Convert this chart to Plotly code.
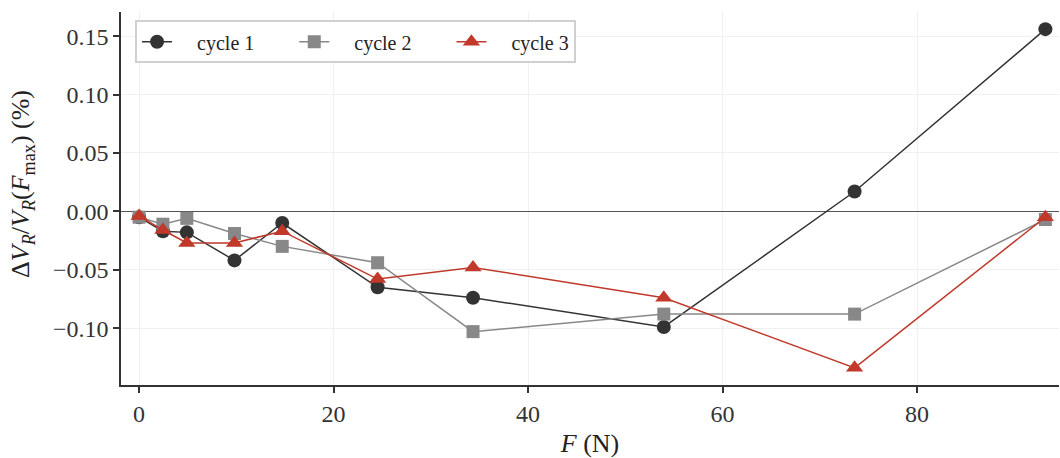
import plotly.graph_objects as go

# Applied force (N) and relative resistance change (%) for three loading cycles
force_n = [0.0, 2.45, 4.91, 9.81, 14.72, 24.53, 34.34, 53.96, 73.58, 93.20]
cycle1 = [-0.005, -0.017, -0.018, -0.042, -0.010, -0.065, -0.074, -0.099, 0.017, 0.156]
cycle2 = [-0.005, -0.011, -0.006, -0.019, -0.030, -0.044, -0.103, -0.088, -0.088, -0.007]
cycle3 = [-0.004, -0.016, -0.027, -0.027, -0.017, -0.058, -0.048, -0.074, -0.134, -0.005]

series_names = ["cycle 1", "cycle 2", "cycle 3"]
x_ticks = [0, 20, 40, 60, 80]
y_ticks = [-0.10, -0.05, 0.00, 0.05, 0.10, 0.15]

FONT = "Liberation Serif"
NBSP = "\u00a0"
styles = [
    dict(color="#333333", symbol="circle", size=14),
    dict(color="#888888", symbol="square", size=13),
    dict(color="#c0392b", symbol="triangle-up", size=15),
]

fig = go.Figure()
n_series = len(series_names)
for i, (name, ys, st) in enumerate(zip(series_names, [cycle1, cycle2, cycle3], styles)):
    # pad legend labels so entries sit evenly spaced
    label = NBSP * 4 + name + (NBSP * 7 if i < n_series - 1 else "")
    fig.add_trace(go.Scatter(
        x=force_n, y=ys, name=label, mode="lines+markers",
        line=dict(color=st["color"], width=1.5),
        marker=dict(color=st["color"], symbol=st["symbol"], size=st["size"],
                    line=dict(width=0)),
    ))

tick_font = dict(family=FONT, size=24, color="#333333")

fig.update_layout(
    width=1060, height=458,
    margin=dict(l=121, r=1, t=12, b=73),
    paper_bgcolor="white", plot_bgcolor="white",
    font=dict(family=FONT, size=24, color="#333333"),
    showlegend=True,
    legend=dict(
        orientation="h", x=0.015, y=0.978, xanchor="left", yanchor="top",
        bgcolor="rgba(255,255,255,0.9)", bordercolor="#d0d0d0", borderwidth=2,
        font=dict(family=FONT, size=20, color="#222222"),
    ),
)

fig.update_xaxes(
    range=[-1.86, 94.6], tickvals=x_ticks, tickfont=tick_font,
    showline=True, linecolor="#333333", linewidth=1.5,
    ticks="outside", ticklen=6, tickwidth=1.5, tickcolor="#333333",
    showgrid=True, gridcolor="#f0f0f0", gridwidth=1, zeroline=False,
    title=dict(text="<i>F</i> (N)", font=dict(family=FONT, size=26, color="#222222"),
               standoff=8),
)
fig.update_yaxes(
    range=[-0.1487, 0.1707], tickvals=y_ticks, tickformat=".2f", tickfont=tick_font,
    showline=True, linecolor="#333333", linewidth=1.5,
    ticks="outside", ticklen=6, tickwidth=1.5, tickcolor="#333333",
    showgrid=True, gridcolor="#f0f0f0", gridwidth=1,
    zeroline=True, zerolinecolor="#555555", zerolinewidth=1.3,
)

# y-axis title placed as a rotated annotation
fig.add_annotation(
    text="Δ<i>V</i><sub><i>R</i></sub>/<i>V</i><sub><i>R</i></sub>(<i>F</i><sub>max</sub>) (%)",
    textangle=-90, xref="paper", yref="paper", x=-0.1055, y=0.539,
    xanchor="center", yanchor="middle", showarrow=False,
    font=dict(family=FONT, size=26, color="#222222"),
)

fig.write_html("out.html")
